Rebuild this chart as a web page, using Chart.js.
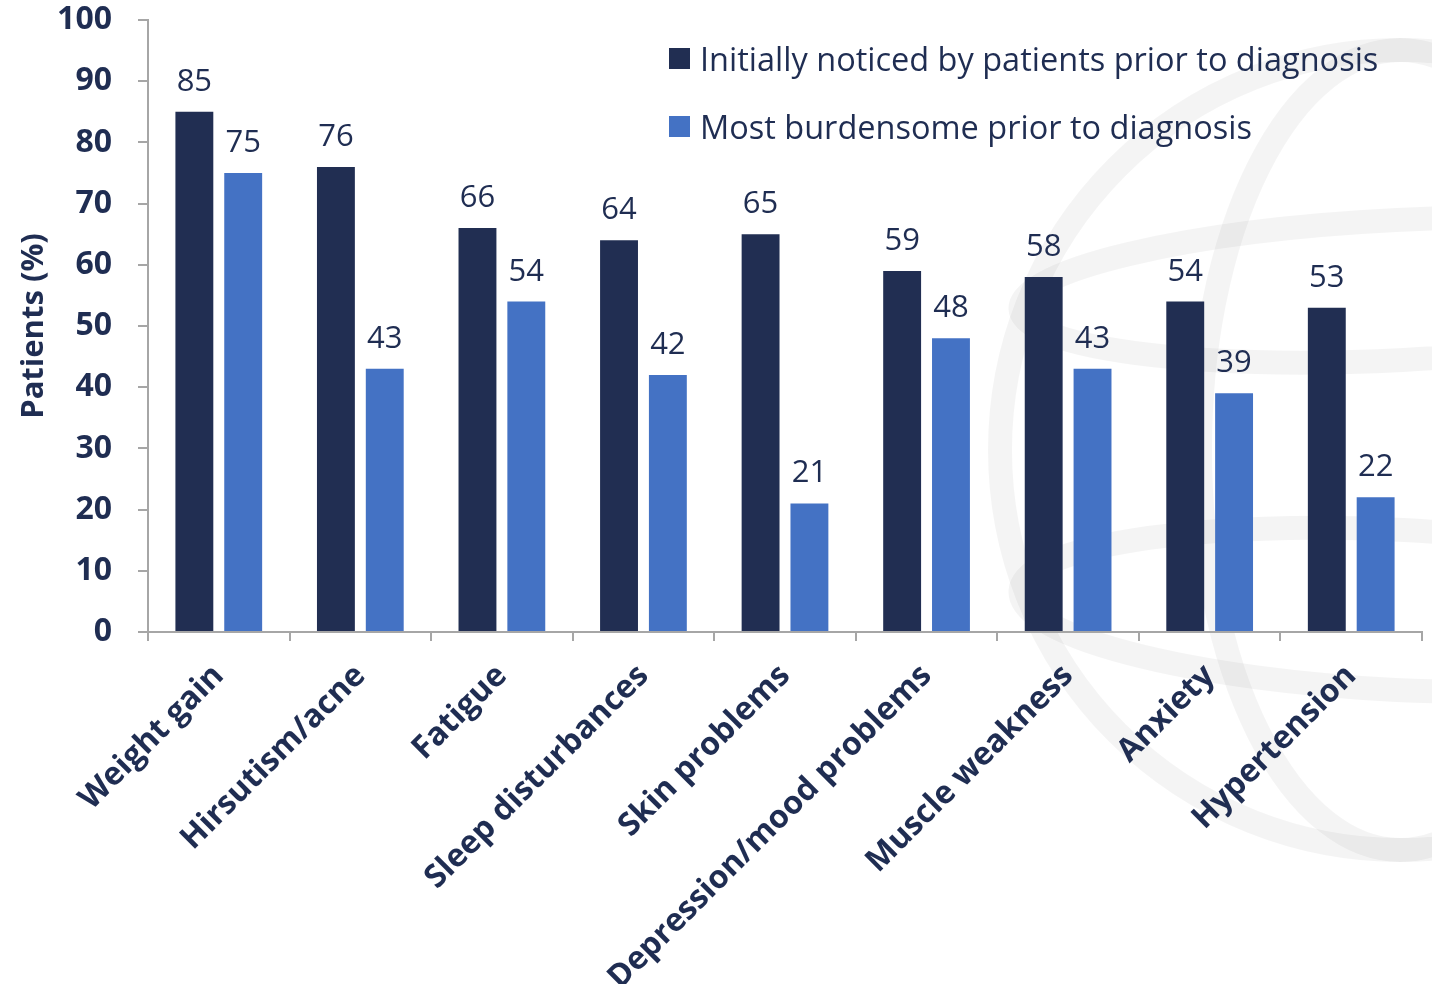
<!DOCTYPE html>
<html>
<head>
<meta charset="utf-8">
<script src="https://cdn.jsdelivr.net/npm/chart.js@4.4.1/dist/chart.umd.min.js"></script>
<style>
    html, body { margin: 0; padding: 0; background: #fff; }
    #wrap { position: relative; width: 1432px; height: 984px; }
    #legend { position: absolute; left: 669px; top: 38px; font-family: 'Open Sans', sans-serif; font-size: 32.5px; color: #1f2d52; }
    .item { display: flex; align-items: center; height: 40px; margin-bottom: 28px; white-space: nowrap; }
    .box { width: 21px; height: 21px; margin-right: 10px; flex: none; }
</style>
</head>
<body>
<div id="wrap">
    <canvas id="chart" width="1432" height="984"></canvas>
    <div id="legend"></div>
</div>
<script>
const categories = ['Weight gain', 'Hirsutism/acne', 'Fatigue', 'Sleep disturbances', 'Skin problems',
    'Depression/mood problems', 'Muscle weakness', 'Anxiety', 'Hypertension'];
const noticedValues = [85, 76, 66, 64, 65, 59, 58, 54, 53];
const burdenValues = [75, 43, 54, 42, 21, 48, 43, 39, 22];
const seriesNames = ['Initially noticed by patients prior to diagnosis', 'Most burdensome prior to diagnosis'];
const yTicks = [0, 10, 20, 30, 40, 50, 60, 70, 80, 90, 100];

const NAVY = '#212e52';
const BLUE = '#4472c4';
const TEXT = '#1f2d52';
const AXIS = '#a6a6a6';

// faint globe watermark behind the plot
const globeBg = {
    id: 'globeBg',
    beforeDraw(chart) {
        const ctx = chart.ctx;
        ctx.save();
        ctx.strokeStyle = 'rgba(0,0,0,0.045)';
        ctx.lineWidth = 24;
        ctx.beginPath();
        ctx.arc(1400, 450, 400, 0, Math.PI * 2);
        ctx.stroke();
        ctx.beginPath();
        ctx.ellipse(1400, 450, 200, 400, 0, 0, Math.PI * 2);
        ctx.stroke();
        ctx.beginPath();
        ctx.ellipse(1400, 290, 380, 70, -0.05, 0, Math.PI * 2);
        ctx.stroke();
        ctx.beginPath();
        ctx.ellipse(1400, 610, 380, 80, 0.05, 0, Math.PI * 2);
        ctx.stroke();
        ctx.restore();
    }
};

// value labels above each bar
const valueLabels = {
    id: 'valueLabels',
    afterDatasetsDraw(chart) {
        const ctx = chart.ctx;
        ctx.save();
        ctx.font = '31px "Open Sans"';
        ctx.fillStyle = TEXT;
        ctx.textAlign = 'center';
        ctx.textBaseline = 'alphabetic';
        chart.data.datasets.forEach((ds, i) => {
            chart.getDatasetMeta(i).data.forEach((bar, j) => {
                ctx.fillText(ds.data[j], bar.x, bar.y - 21);
            });
        });
        ctx.restore();
    }
};

new Chart(document.getElementById('chart'), {
    type: 'bar',
    data: {
        labels: categories,
        datasets: [
            { label: seriesNames[0], data: noticedValues, backgroundColor: NAVY },
            { label: seriesNames[1], data: burdenValues, backgroundColor: BLUE }
        ]
    },
    options: {
        responsive: false,
        animation: false,
        layout: { padding: { top: 20, right: 10, left: 0, bottom: 0 } },
        categoryPercentage: 0.69,
        barPercentage: 0.776,
        plugins: {
            legend: { display: false },
            tooltip: { enabled: false }
        },
        scales: {
            x: {
                grid: { offset: true, drawOnChartArea: false, color: AXIS, tickLength: 9, lineWidth: 2 },
                border: { color: AXIS, width: 2 },
                ticks: {
                    color: TEXT,
                    font: { family: 'Open Sans', size: 32, weight: 'bold' },
                    minRotation: 45, maxRotation: 45, padding: 16, autoSkip: false
                },
                afterFit(scale) { scale.height = 352; }
            },
            y: {
                min: 0, max: 100,
                afterBuildTicks(scale) { scale.ticks = yTicks.map(v => ({ value: v })); },
                grid: { drawOnChartArea: false, color: AXIS, tickLength: 10, lineWidth: 2 },
                border: { color: AXIS, width: 2 },
                ticks: {
                    color: TEXT,
                    font: { family: 'Open Sans', size: 32, weight: 'bold' },
                    padding: 26
                },
                title: {
                    display: true, text: 'Patients (%)', color: TEXT,
                    font: { family: 'Open Sans', size: 31, weight: 'bold' },
                    padding: { top: 16, bottom: 0 }
                },
                afterFit(scale) {
                    // fixed axis width, no extra room for the end labels
                    scale.width = 148;
                    scale.paddingTop = 0;
                    scale.paddingBottom = 0;
                }
            }
        }
    },
    plugins: [globeBg, valueLabels]
});

const legendEl = document.getElementById('legend');
[NAVY, BLUE].forEach((c, i) => {
    const item = document.createElement('div');
    item.className = 'item';
    item.innerHTML = '<span class="box" style="background:' + c + '"></span><span>' + seriesNames[i] + '</span>';
    legendEl.appendChild(item);
});
</script>
</body>
</html>
